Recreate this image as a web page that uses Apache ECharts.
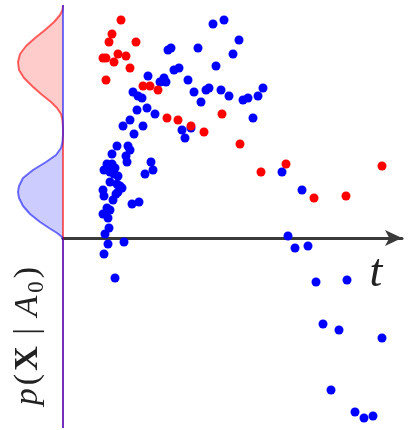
<!DOCTYPE html>
<html>
<head>
<meta charset="utf-8">
<script src="https://cdn.jsdelivr.net/npm/echarts@6/dist/echarts.min.js"></script>
<style>
html, body { margin: 0; padding: 0; background: #fff; }
#main { width: 412px; height: 430px; }
</style>
</head>
<body>
<div id="main"></div>
<script>
// sample points [t, value]
var bluePts = [
  [15.0, 10.7], [16.1, 10.9], [17.6, 9.9], [17.0, 9.2], [10.5, 9.4], [10.8, 9.5], [13.5, 9.5],
  [15.3, 8.6], [11.1, 8.4], [11.6, 8.5], [8.5, 8.1], [9.7, 7.8], [10.1, 8.0], [10.3, 7.8],
  [12.5, 7.9], [13.1, 7.3], [14.3, 7.4], [14.6, 7.5], [15.8, 7.4], [16.6, 7.1], [18.0, 6.9],
  [18.5, 7.0], [19.5, 7.1], [20.0, 7.5], [7.0, 7.3], [7.5, 7.1], [7.9, 7.0], [8.4, 6.5],
  [7.4, 6.4], [9.2, 6.2], [13.8, 6.8], [19.0, 6.0], [6.7, 5.9], [6.0, 5.6], [8.0, 5.6],
  [11.9, 5.4], [12.8, 5.5], [7.1, 5.2], [12.2, 5.0], [5.4, 4.6], [6.5, 4.6], [6.7, 4.4],
  [4.9, 4.2], [6.3, 4.1], [6.4, 3.8], [4.4, 3.7], [4.9, 3.7], [5.2, 3.5], [4.1, 3.4],
  [4.7, 3.3], [5.1, 3.2], [5.5, 3.1], [8.8, 3.8], [9.0, 3.4], [8.2, 3.2], [4.7, 2.8],
  [5.4, 2.7], [5.7, 2.6], [5.9, 2.5], [4.0, 2.4], [4.1, 2.1], [5.5, 2.3], [5.3, 2.2],
  [5.0, 1.9], [6.9, 1.7], [7.6, 1.8], [4.4, 1.5], [4.7, 1.4], [4.0, 1.2], [4.5, 1.0],
  [4.6, 0.5], [4.2, 0.2], [4.5, -0.3], [6.1, -0.2], [4.1, -0.8], [5.2, -2.0],
  [21.9, 3.3], [23.9, 2.4], [22.5, 0.1], [23.2, -0.5], [24.5, -0.4], [25.3, -2.2],
  [28.4, -2.1], [26.0, -4.3], [27.6, -4.6], [31.9, -5.0], [26.8, -7.6], [29.2, -8.7],
  [30.1, -9.0], [31.0, -8.9]
];
var redPts = [
  [5.8, 10.9], [4.9, 10.2], [4.6, 9.8], [7.3, 9.8], [4.0, 9.0], [4.3, 9.0], [5.1, 8.8],
  [5.5, 9.2], [6.3, 9.1], [6.7, 8.5], [4.3, 7.9], [8.0, 7.6], [8.7, 7.6], [9.5, 7.4],
  [10.4, 6.0], [11.5, 5.9], [12.8, 5.6], [14.1, 5.3], [15.9, 6.2], [17.7, 4.7],
  [19.8, 3.3], [22.3, 3.7], [25.1, 2.0], [28.3, 2.1], [31.9, 3.6]
];

// densities along the vertical axis
var redDensY = [11.65, 11.4, 11.15, 10.8, 10.4, 10.0, 9.6, 9.2, 8.8, 8.4, 8.0, 7.6, 7.2, 6.8, 6.5, 6.2, 5.9, 5.5, -9.5];
var redDens  = [0, 0.01, 0.06, 0.18, 0.36, 0.56, 0.74, 0.86, 0.9, 0.88, 0.78, 0.62, 0.44, 0.24, 0.12, 0.04, 0.01, 0, 0];
var blueDensY = [11.65, 5.15, 4.8, 4.5, 4.15, 3.8, 3.4, 3.0, 2.6, 2.3, 2.0, 1.6, 1.2, 0.8, 0.5, 0.25, 0.05, -0.1, -9.5];
var blueDens  = [0, 0, 0.01, 0.04, 0.14, 0.34, 0.6, 0.8, 0.88, 0.9, 0.88, 0.8, 0.66, 0.46, 0.28, 0.12, 0.02, 0, 0];

var redCurve = redDens.map(function (d, i) { return [d, redDensY[i]]; });
var blueCurve = blueDens.map(function (d, i) { return [d, blueDensY[i]]; });

function fillArea(curve, color) {
  return {
    type: 'custom',
    xAxisIndex: 1,
    yAxisIndex: 1,
    data: curve,
    encode: { x: 0, y: 1 },
    silent: true,
    renderItem: function (params, api) {
      if (params.dataIndex !== 0) return null;
      var pts = curve.map(function (p) { return api.coord(p); });
      return { type: 'polygon', shape: { points: pts }, style: { fill: color } };
    }
  };
}

function outline(curve, color) {
  return {
    type: 'line',
    xAxisIndex: 1,
    yAxisIndex: 1,
    data: curve,
    symbol: 'none',
    clip: false,
    lineStyle: { color: color, width: 2 }
  };
}

var serif = 'Liberation Serif';

var chart = echarts.init(document.getElementById('main'));
chart.setOption({
  animation: false,
  backgroundColor: '#fff',
  grid: [
    { left: 63, right: 10, top: 0, bottom: 0 },
    { left: 0, width: 63, top: 0, bottom: 0 }
  ],
  xAxis: [
    {
      gridIndex: 0, type: 'value', min: 0, max: 33.9,
      axisLine: {
        onZero: true, symbol: ['none', 'arrow'], symbolSize: [12, 17],
        lineStyle: { color: '#3a3a3a', width: 3 }
      },
      axisTick: { show: false }, axisLabel: { show: false }, splitLine: { show: false }
    },
    { gridIndex: 1, type: 'value', inverse: true, min: 0, max: 1.26, show: false }
  ],
  yAxis: [
    { gridIndex: 0, type: 'value', min: -9.6, max: 11.9, show: false },
    { gridIndex: 1, type: 'value', min: -9.6, max: 11.9, show: false }
  ],
  series: [
    fillArea(redCurve, 'rgba(255,0,0,0.2)'),
    fillArea(blueCurve, 'rgba(0,0,255,0.2)'),
    outline(redCurve, 'rgba(255,0,0,0.6)'),
    outline(blueCurve, 'rgba(0,0,255,0.55)'),
    {
      type: 'scatter', data: bluePts, symbolSize: 9,
      itemStyle: { color: '#0000ff', opacity: 1 }
    },
    {
      type: 'scatter', data: redPts, symbolSize: 9,
      itemStyle: { color: '#ff0000', opacity: 1 }
    }
  ],
  graphic: [
    {
      type: 'text', x: 376, y: 274,
      style: {
        text: 't', fill: '#222', align: 'center', verticalAlign: 'middle',
        font: 'italic 46px "Liberation Serif"'
      }
    },
    {
      type: 'text', x: 28, y: 336, rotation: Math.PI / 2,
      style: {
        text: '{it|p}{rm|(}{bf|X}{rm| | }{it|A}{sub|0}{rm|)}',
        align: 'center', verticalAlign: 'middle', fill: '#222',
        rich: {
          it: { fontFamily: serif, fontStyle: 'italic', fontSize: 34, lineHeight: 40, padding: [0, 1.5], fill: '#222' },
          rm: { fontFamily: serif, fontSize: 34, lineHeight: 40, padding: [0, 1.5], fill: '#222' },
          bf: { fontFamily: serif, fontWeight: 'bold', fontSize: 34, lineHeight: 40, padding: [0, 1.5], fill: '#222' },
          sub: { fontFamily: serif, fontSize: 23, lineHeight: 40, padding: [0, 1.5], verticalAlign: 'bottom', fill: '#222' }
        }
      }
    }
  ]
});
</script>
</body>
</html>
